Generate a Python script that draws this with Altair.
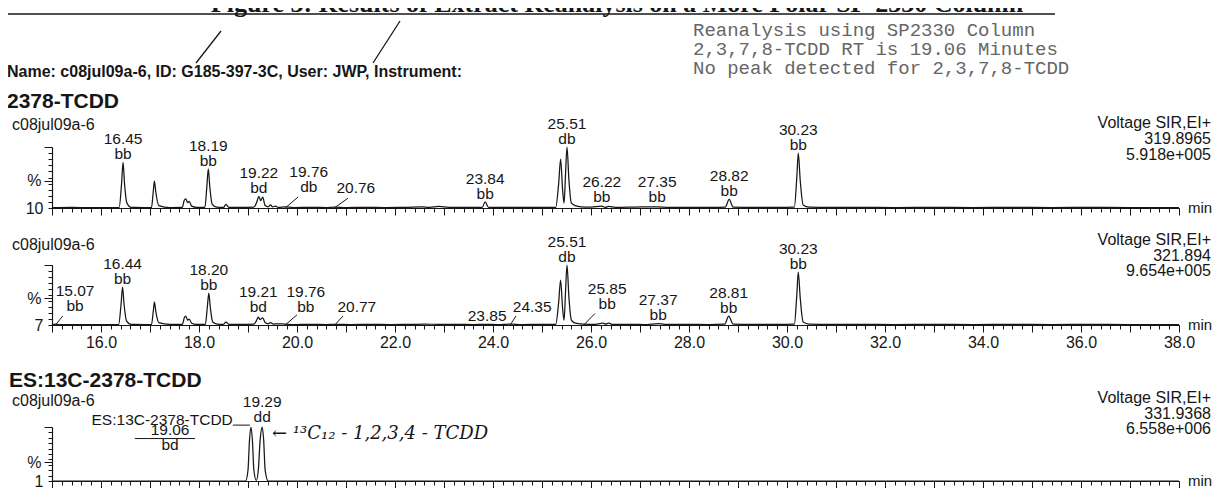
import altair as alt
import pandas as pd

INK = "#161616"
SANS = "Liberation Sans"
MONO = "Liberation Mono"
SERIF = "Liberation Serif"

# page position of the plot origin and plot size
X0, Y0 = 52, 8
W, H = 1127, 472

# ---------------- data (time in min, intensity in %) ----------------
TRACE1 = [(15.00, 0.5), (15.40, 0.9), (15.80, 0.5), (16.20, 0.8), (16.37, 0.8), (16.42, 40), (16.45, 75),
          (16.48, 40), (16.53, 8), (16.62, 1), (16.90, 0.8), (17.03, 0.8), (17.07, 30), (17.09, 44),
          (17.12, 25), (17.18, 4), (17.40, 0.8), (17.66, 1), (17.70, 13), (17.73, 15), (17.77, 9),
          (17.80, 11), (17.85, 3), (17.95, 1), (18.12, 1), (18.16, 35), (18.19, 64), (18.22, 35),
          (18.27, 6), (18.36, 1.5), (18.50, 1), (18.55, 6), (18.61, 1), (18.85, 1), (19.12, 1.5),
          (19.18, 10), (19.22, 19), (19.26, 12), (19.30, 18), (19.35, 4), (19.41, 2), (19.46, 5),
          (19.50, 2), (19.56, 3), (19.62, 1), (19.76, 2), (19.92, 0.8), (20.30, 1.2), (20.60, 0.8),
          (20.76, 1.5), (21.00, 0.8), (21.40, 1.2), (21.80, 0.8), (22.20, 1.0), (22.55, 2), (22.70, 1),
          (22.90, 2.5), (23.10, 1), (23.50, 1), (23.78, 1), (23.84, 10), (23.91, 1), (24.30, 1),
          (24.80, 1), (25.28, 1), (25.34, 40), (25.38, 80), (25.42, 30), (25.45, 8), (25.48, 55),
          (25.51, 100), (25.55, 45), (25.60, 8), (25.68, 4), (25.80, 2), (26.00, 1.5), (26.22, 3),
          (26.29, 1), (26.36, 2.5), (26.50, 1), (26.90, 1.5), (27.35, 2), (27.60, 1), (28.10, 1.2),
          (28.50, 1), (28.74, 1.5), (28.82, 14), (28.90, 1.5), (29.30, 1), (29.80, 1), (30.15, 1.5),
          (30.20, 50), (30.23, 90), (30.27, 45), (30.33, 5), (30.45, 1.5), (30.90, 1), (31.50, 1.2),
          (32.20, 0.8), (33.00, 1), (33.80, 0.8), (34.60, 1), (35.40, 0.8), (36.20, 1), (37.00, 0.8),
          (38.00, 0.5)]

TRACE2 = [(15.00, 0.5), (15.07, 1.5), (15.15, 0.5), (15.50, 0.8), (15.90, 0.5), (16.20, 0.8), (16.36, 0.8),
          (16.41, 35), (16.44, 63), (16.47, 35), (16.52, 7), (16.62, 1), (16.90, 0.8), (17.03, 0.8),
          (17.07, 25), (17.09, 38), (17.12, 22), (17.18, 4), (17.40, 1), (17.66, 1), (17.70, 12),
          (17.73, 15), (17.77, 8), (17.80, 10), (17.85, 3), (17.95, 1), (18.13, 1), (18.17, 30),
          (18.20, 53), (18.23, 30), (18.28, 5), (18.37, 1.5), (18.50, 1), (18.55, 5), (18.61, 1),
          (18.85, 1), (19.12, 1.5), (19.17, 7), (19.21, 13), (19.25, 9), (19.30, 12), (19.35, 4),
          (19.41, 2), (19.46, 4), (19.52, 1.5), (19.60, 2), (19.76, 1.5), (19.95, 0.8), (20.30, 1.2),
          (20.60, 0.8), (20.77, 1), (21.10, 0.8), (21.50, 1.2), (21.90, 0.8), (22.30, 1), (22.60, 1.5),
          (22.90, 1), (23.30, 1.2), (23.60, 0.8), (23.85, 1.2), (24.10, 0.8), (24.35, 1.5), (24.60, 0.8),
          (25.00, 1), (25.28, 1), (25.34, 38), (25.38, 75), (25.42, 28), (25.45, 8), (25.48, 55),
          (25.51, 100), (25.55, 45), (25.60, 8), (25.68, 3), (25.85, 1.5), (26.05, 1), (26.25, 3),
          (26.30, 1.5), (26.36, 3), (26.45, 1), (26.80, 1.2), (27.10, 0.8), (27.37, 2.5), (27.50, 1),
          (27.90, 1), (28.40, 0.8), (28.73, 1.5), (28.81, 15), (28.90, 1.5), (29.30, 1), (29.80, 1),
          (30.15, 1.5), (30.20, 50), (30.23, 88), (30.27, 45), (30.33, 5), (30.45, 1.5), (30.90, 1),
          (31.50, 1.2), (32.20, 0.8), (33.00, 1), (33.80, 0.8), (34.60, 1), (35.40, 0.8), (36.20, 1),
          (37.00, 0.8), (38.00, 0.5)]

TRACE3 = [(15.00, 0), (18.95, 0), (19.00, 20), (19.03, 75), (19.06, 100), (19.09, 75), (19.12, 20),
          (19.17, 1), (19.21, 20), (19.25, 78), (19.29, 100), (19.32, 75), (19.35, 20), (19.41, 0),
          (38.00, 0)]

# peak labels: upper line, lower line, label centre time, label bottom (%)
LABELS1 = [("16.45", "bb", 16.45, 75), ("18.19", "bb", 18.19, 64), ("19.22", "bd", 19.22, 19),
           ("19.76", "db", 20.24, 20.5), ("", "20.76", 21.20, 19), ("23.84", "bb", 23.84, 10),
           ("25.51", "db", 25.51, 100), ("26.22", "bb", 26.22, 5), ("27.35", "bb", 27.35, 5),
           ("28.82", "bb", 28.82, 14), ("30.23", "bb", 30.23, 90)]
LABELS2 = [("15.07", "bb", 15.47, 19), ("16.44", "bb", 16.44, 63), ("18.20", "bb", 18.20, 53),
           ("19.21", "bd", 19.21, 16), ("19.76", "bb", 20.18, 17.5), ("", "20.77", 21.22, 17.5),
           ("", "23.85", 23.88, 2.5), ("", "24.35", 24.80, 17.5), ("25.51", "db", 25.51, 100),
           ("25.85", "bb", 26.33, 21), ("27.37", "bb", 27.37, 4), ("28.81", "bb", 28.81, 15),
           ("30.23", "bb", 30.23, 88)]
LABELS3 = [("19.29", "dd", 19.29, 104), ("19.06", "bd", 17.41, 52.7)]
LABELS3_RIGHT = [("ES:13C-2378-TCDD", 18.69, 99)]

# leader lines: from (t0, y0) to (t1, y1)
LEADERS1 = [(19.76, 0, 20.02, 18), (20.76, 0, 21.04, 16)]
LEADERS2 = [(15.07, 0, 15.22, 15), (19.76, 0, 20.00, 17), (20.77, 0, 20.94, 15),
            (24.35, 0, 24.47, 15), (25.85, 0, 26.08, 19)]
LEADERS3 = [(18.69, 103.5, 19.04, 103.5), (16.69, 78.6, 17.92, 78.6)]

CHANNELS = [("Voltage SIR,EI+", "319.8965", "5.918e+005"),
            ("Voltage SIR,EI+", "321.894", "9.654e+005"),
            ("Voltage SIR,EI+", "331.9368", "6.558e+006")]
BASE_LABELS = ["10", "7", "1"]
PCT_AT = [45, 45, 35]
MAJOR_TICKS = list(range(15, 39))
MINOR_TICKS = [round(15 + 0.2 * i, 1) for i in range(116)]

# ---------------- layout (page pixels) ----------------
BASES = [208, 325, 481]
TOPS = [147, 265, 427]

ONE = pd.DataFrame({"k": [0]})
LBL = 15.5


def xs():
    return alt.Scale(domain=[15, 38], range=[0, W], nice=False, zero=False)


def ys(k):
    return alt.Scale(domain=[0, 100], range=[BASES[k] - Y0, TOPS[k] - Y0], nice=False, zero=False)


def txt(s, px, py, size=16, weight="normal", font=SANS, align="left",
        baseline="middle", color=INK, style="normal"):
    return alt.Chart(ONE).mark_text(
        text=s, font=font, fontSize=size, fontWeight=weight, fontStyle=style,
        align=align, baseline=baseline, color=color
    ).encode(x=alt.value(px - X0), y=alt.value(py - Y0))


def seg(px1, py1, px2, py2, width=1.2):
    return alt.Chart(ONE).mark_rule(color=INK, strokeWidth=width).encode(
        x=alt.value(px1 - X0), y=alt.value(py1 - Y0),
        x2=alt.value(px2 - X0), y2=alt.value(py2 - Y0))


def panel(k, trace, labels, leaders, extra_right=None):
    df = pd.DataFrame(trace, columns=["t", "v"])
    off = BASES[k] - Y0 - H
    xkw = dict(values=MAJOR_TICKS, orient="bottom", offset=off, tickSize=7, tickColor=INK,
               tickWidth=1, domainColor=INK, domainWidth=1.2, grid=False, title=None)
    if k == 1:
        xkw.update(labels=True, labelExpr="datum.value % 2 == 0 ? format(datum.value, '.1f') : ''",
                   labelFont=SANS, labelFontSize=16, labelColor=INK, labelPadding=2,
                   labelOverlap=False, labelFlush=False)
    else:
        xkw.update(labels=False)
    line = alt.Chart(df).mark_line(color=INK, strokeWidth=1.25, interpolate="monotone").encode(
        x=alt.X("t:Q", scale=xs(), axis=alt.Axis(**xkw)),
        y=alt.Y("v:Q", scale=ys(k), axis=alt.Axis(
            values=[PCT_AT[k], 100], orient="left", tickSize=8, tickColor=INK, domainColor=INK,
            domainWidth=1.2, grid=False, title=None, labelExpr=f"datum.value == {PCT_AT[k]} ? '%' : ''",
            labelFont=SANS, labelFontSize=16, labelColor=INK, labelPadding=3)),
    )
    minor = alt.Chart(df).mark_point(opacity=0).encode(
        x=alt.X("t:Q", scale=xs(), axis=alt.Axis(
            values=MINOR_TICKS, orient="bottom", offset=off, tickSize=4, tickColor=INK, tickWidth=1,
            domain=False, labels=False, grid=False, title=None)),
        y=alt.Y("v:Q", scale=ys(k), axis=alt.Axis(
            values=list(range(0, 101, 10)), orient="left", tickSize=4, tickColor=INK, domain=False,
            grid=False, title=None, labelExpr=f"datum.value == 0 ? '{BASE_LABELS[k]}' : ''",
            labelFont=SANS, labelFontSize=16, labelColor=INK, labelPadding=5)),
    )
    ldf = pd.DataFrame(labels, columns=["upper", "lower", "lt", "ly"])
    lab_lo = alt.Chart(ldf).mark_text(baseline="bottom", align="center", font=SANS, fontSize=LBL,
                                      color=INK).encode(
        x=alt.X("lt:Q", scale=xs(), axis=None),
        y=alt.Y("ly:Q", scale=ys(k), axis=None),
        text="lower:N")
    lab_up = alt.Chart(ldf).mark_text(baseline="bottom", align="center", font=SANS, fontSize=LBL,
                                      color=INK, dy=-15).encode(
        x=alt.X("lt:Q", scale=xs(), axis=None),
        y=alt.Y("ly:Q", scale=ys(k), axis=None),
        text="upper:N")
    out = [line, minor, lab_lo, lab_up]
    if leaders:
        rdf = pd.DataFrame(leaders, columns=["t0", "y0", "t1", "y1"])
        out.append(alt.Chart(rdf).mark_rule(color=INK, strokeWidth=1).encode(
            x=alt.X("t0:Q", scale=xs(), axis=None), x2="t1:Q",
            y=alt.Y("y0:Q", scale=ys(k), axis=None), y2="y1:Q"))
    if extra_right:
        edf = pd.DataFrame(extra_right, columns=["txt", "lt", "ly"])
        out.append(alt.Chart(edf).mark_text(baseline="bottom", align="right", font=SANS,
                                            fontSize=LBL, color=INK).encode(
            x=alt.X("lt:Q", scale=xs(), axis=None),
            y=alt.Y("ly:Q", scale=ys(k), axis=None),
            text="txt:N"))
    return out


layers = []
layers += panel(0, TRACE1, LABELS1, LEADERS1)
layers += panel(1, TRACE2, LABELS2, LEADERS2)
layers += panel(2, TRACE3, LABELS3, LEADERS3, LABELS3_RIGHT)

# header and annotations
layers.append(txt("Figure 3: Results of Extract Reanalysis on a More Polar SP-2330 Column", 617, 12,
                  size=26, weight="bold", font=SERIF, align="center", baseline="alphabetic"))
layers.append(seg(0, 14, 1055, 14, width=1.6))
layers.append(txt("Name: c08jul09a-6, ID: G185-397-3C, User: JWP, Instrument:", 7, 77,
                  size=16, weight="bold", baseline="alphabetic"))
GRAY = "#666666"
layers.append(txt("Reanalysis using SP2330 Column", 693, 36, size=19, font=MONO, color=GRAY,
                  baseline="alphabetic"))
layers.append(txt("2,3,7,8-TCDD RT is 19.06 Minutes", 693, 55, size=19, font=MONO, color=GRAY,
                  baseline="alphabetic"))
layers.append(txt("No peak detected for 2,3,7,8-TCDD", 693, 74, size=19, font=MONO, color=GRAY,
                  baseline="alphabetic"))
layers.append(seg(196, 63, 221, 31, width=1.3))
layers.append(seg(373, 63, 400, 21, width=1.3))
layers.append(txt("2378-TCDD", 7, 108, size=21, weight="bold", baseline="alphabetic"))
layers.append(txt("ES:13C-2378-TCDD", 9, 387, size=21, weight="bold", baseline="alphabetic"))

NAME_Y = [125, 245, 401]
CH_Y = [(123, 139, 155), (240, 256, 271), (398, 414, 429)]
for k in range(3):
    layers.append(txt("c08jul09a-6", 12, NAME_Y[k]))
    for s, yy in zip(CHANNELS[k], CH_Y[k]):
        layers.append(txt(s, 1211, yy, align="right"))
    layers.append(txt("min", 1188, BASES[k], size=15))

layers.append(txt("\u2190 \u00b9\u00b3C\u2081\u2082 - 1,2,3,4 - TCDD", 272, 434, size=18,
                  font="DejaVu Serif", style="italic"))

chart = alt.layer(*layers).resolve_scale(x="independent", y="independent").resolve_axis(
    x="independent", y="independent"
).properties(
    width=W, height=H,
    autosize=alt.AutoSizeParams(type="none"),
    padding={"left": 44, "top": 0, "right": 36, "bottom": 8},
    background="white",
).configure_view(stroke=None)

chart.save("out.html", embed_options={"renderer": "svg", "actions": False})
